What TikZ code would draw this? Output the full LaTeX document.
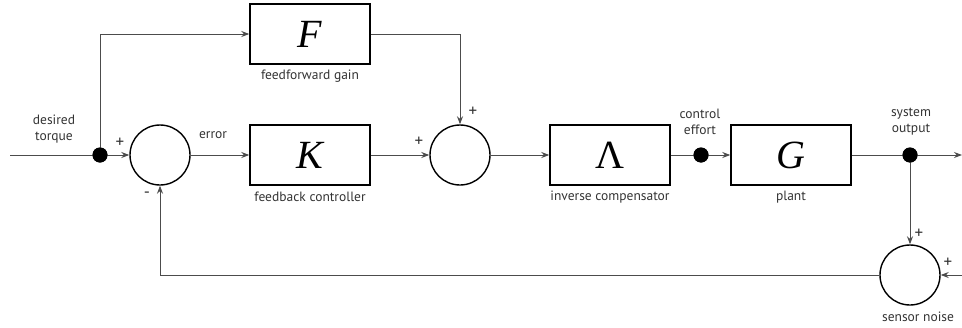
\documentclass[tikz,border=0pt]{standalone}
\usepackage{fontspec}
\setmainfont{PT Sans}
\newfontfamily\mathserif{Liberation Serif}
\usetikzlibrary{arrows.meta}
\definecolor{linec}{rgb}{0.3,0.3,0.3}
\definecolor{textc}{rgb}{0.2,0.2,0.2}
\tikzset{
  blockbox/.style={draw=black, line width=1.4pt, minimum width=120pt, minimum height=60pt, inner sep=0pt, font=\mathserif\fontsize{40}{40}\selectfont},
  sumnode/.style={draw=black, line width=1.4pt, circle, minimum size=60pt, inner sep=0pt},
  dotnode/.style={fill=black, circle, minimum size=15pt, inner sep=0pt},
  wire/.style={draw=linec, line width=1pt},
  arr/.style={wire, -{Stealth[length=8pt,width=6pt]}},
  lbl/.style={text=textc, font=\fontsize{13.5}{16}\selectfont, inner sep=0pt, align=center},
  sgn/.style={text=textc, font=\fontsize{17}{17}\selectfont, inner sep=0pt}
}
\begin{document}
\begin{tikzpicture}[x=1pt,y=-1pt]
\useasboundingbox (0,0) rectangle (962,327);
% blocks
\node[blockbox] (F) at (310,34) {\itshape F};
\node[blockbox] (K) at (310,155) {\itshape K};
\node[blockbox] (L) at (610,155) {Λ};
\node[blockbox] (G) at (791,155) {\itshape G};
% sums
\node[sumnode] (s1) at (160,155) {};
\node[sumnode] (s2) at (460,155) {};
\node[sumnode] (s3) at (910,275) {};
% dots
\node[dotnode] (j1) at (100,155) {};
\node[dotnode] (j2) at (701,155) {};
\node[dotnode] (j3) at (910,155) {};
% free ends
\coordinate (in) at (10,155);
\coordinate (out) at (962,155);
\coordinate (noise) at (962,275);
% wires
\draw[wire] (in) -- (j1.center);
\draw[arr] (j1.center) -- (s1.west);
\draw[arr] (j1.center) |- (F.west);
\draw[arr] (F.east) -| (s2.north);
\draw[arr] (s1.east) -- (K.west);
\draw[arr] (K.east) -- (s2.west);
\draw[arr] (s2.east) -- (L.west);
\draw[wire] (L.east) -- (j2.center);
\draw[arr] (j2.center) -- (G.west);
\draw[wire] (G.east) -- (j3.center);
\draw[arr] (j3.center) -- (out);
\draw[arr] (j3.center) -- (s3.north);
\draw[arr] (noise) -- (s3.east);
\draw[arr] (s3.west) -| (s1.south);
% redraw dots on top
\node[dotnode] at (j1) {};
\node[dotnode] at (j2) {};
\node[dotnode] at (j3) {};
% labels
\node[lbl] (tdes) at (54,129) {desired\\torque};
\node[lbl] (terr) at (213,135) {error};
\node[lbl] (tfb) at (310,197) {feedback controller};
\node[lbl] (tff) at (310,76) {feedforward gain};
\node[lbl] (tinv) at (610,197) {inverse compensator};
\node[lbl] (tce) at (700,122) {control\\effort};
\node[lbl] (tpl) at (791,197) {plant};
\node[lbl] (tso) at (911,122) {system\\output};
\node[lbl] (tsn) at (918,317) {sensor noise};
% signs
\node[sgn] (p1) at (120,143) {+};
\node[sgn] (m1) at (147,195) {-};
\node[sgn] (p2) at (473,112) {+};
\node[sgn] (p3) at (419,142) {+};
\node[sgn] (p4) at (919,234) {+};
\node[sgn] (p5) at (948,263) {+};
\end{tikzpicture}
\end{document}
